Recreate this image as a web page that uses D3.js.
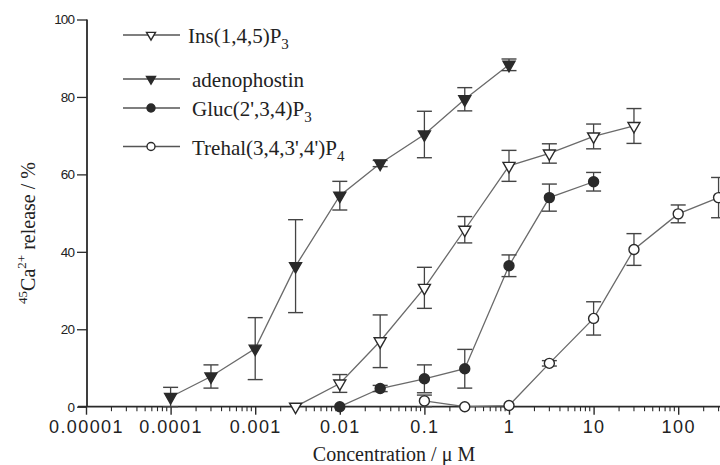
<!DOCTYPE html>
<html>
<head>
<meta charset="utf-8">
<script src="https://cdn.jsdelivr.net/npm/d3@7"></script>
<style>
  html, body { margin: 0; padding: 0; background: #fff; }
  svg { display: block; }
</style>
</head>
<body>
<svg id="chart" width="720" height="465"></svg>
<script>
// Concentration-response data: concentration (µM), % 45Ca2+ release, SEM
const insConc   = [0.003, 0.01, 0.03, 0.1, 0.3, 1, 3, 10, 30];
const insResp   = [0, 6, 16.9, 30.7, 45.7, 62.2, 65.4, 69.8, 72.5];
const insErr    = [0, 2.3, 6.8, 5.3, 3.4, 4, 2.5, 3.2, 4.5];

const adenoConc = [0.0001, 0.0003, 0.001, 0.003, 0.01, 0.03, 0.1, 0.3, 1];
const adenoResp = [2.5, 7.8, 15, 36.3, 54.5, 62.8, 70.3, 79.4, 88.3];
const adenoErr  = [2.5, 3, 8, 12, 3.7, 0.8, 6, 3, 1.5];

const glucConc  = [0.01, 0.03, 0.1, 0.3, 1, 3, 10];
const glucResp  = [0, 4.7, 7.2, 9.8, 36.4, 54, 58.1];
const glucErr   = [0, 0.8, 3.6, 5, 2.8, 3.5, 2.4];

const trehConc  = [0.1, 0.3, 1, 3, 10, 30, 100, 300];
const trehResp  = [1.5, 0, 0.3, 11.2, 22.8, 40.6, 49.8, 54];
const trehErr   = [1.5, 0, 0, 0.7, 4.3, 4.1, 2.3, 5.2];

const xTickValues = [1e-5, 1e-4, 1e-3, 1e-2, 1e-1, 1, 10, 100];
const xTickLabels = ["0.00001", "0.0001", "0.001", "0.01", "0.1", "1", "10", "100"];
const yTickValues = [0, 20, 40, 60, 80, 100];

const seriesList = [
  { name: "Ins", label: ["Ins(1,4,5)P", "3"], conc: insConc, resp: insResp, err: insErr, shape: "tri", filled: false },
  { name: "adeno", label: ["adenophostin", ""], conc: adenoConc, resp: adenoResp, err: adenoErr, shape: "tri", filled: true },
  { name: "gluc", label: ["Gluc(2',3,4)P", "3"], conc: glucConc, resp: glucResp, err: glucErr, shape: "circle", filled: true },
  { name: "treh", label: ["Trehal(3,4,3',4')P", "4"], conc: trehConc, resp: trehResp, err: trehErr, shape: "circle", filled: false }
];

const svg = d3.select("#chart");
const ink = "#2a2a2a";
const lineGrey = "#6a6a6a";

const x = d3.scaleLog().domain([1e-5, 1e3]).range([86, 86 + 8 * 84.6]);
const y = d3.scaleLinear().domain([0, 100]).range([406.7, 19.5]);

// ---- Axes ----
const minorTicks = [];
for (let e = -5; e < 3; e++) {
  for (let m = 2; m <= 9; m++) minorTicks.push(m * Math.pow(10, e));
}

const xAxis = d3.axisBottom(x)
  .tickValues(xTickValues)
  .tickFormat((d, i) => xTickLabels[i])
  .tickSize(8)
  .tickPadding(6);

const gx = svg.append("g").attr("transform", `translate(0,${y(0)})`).call(xAxis);
gx.select(".domain").remove();
gx.append("line").attr("x1", 78).attr("x2", 720).attr("y1", 0).attr("y2", 0)
  .attr("stroke", ink).attr("stroke-width", 1.8);
gx.selectAll(".tick line").attr("stroke", ink).attr("stroke-width", 1.4);
gx.selectAll(".tick text")
  .attr("fill", "#222")
  .attr("font-family", "'Liberation Sans', Arial, sans-serif")
  .attr("font-size", 18)
  .attr("letter-spacing", "1.4px")
  .attr("dy", "0.71em");

gx.selectAll(".minor").data(minorTicks).enter().append("line")
  .attr("class", "minor")
  .attr("x1", d => x(d)).attr("x2", d => x(d))
  .attr("y1", 0).attr("y2", 4.5)
  .attr("stroke", ink).attr("stroke-width", 1.1);

const yAxis = d3.axisLeft(y).tickValues(yTickValues).tickSize(10).tickPadding(3);
const gy = svg.append("g").attr("transform", "translate(87,0)").call(yAxis);
gy.select(".domain").remove();
gy.append("line").attr("x1", 0).attr("x2", 0).attr("y1", y(100)).attr("y2", y(0))
  .attr("stroke", ink).attr("stroke-width", 1.8);
gy.selectAll(".tick line").attr("stroke", ink).attr("stroke-width", 1.3);
gy.selectAll(".tick text")
  .attr("fill", "#222")
  .attr("font-family", "'Liberation Sans', Arial, sans-serif")
  .attr("font-size", 13.5)
  .attr("letter-spacing", "-0.9px");

// ---- Axis titles ----
const serif = "'Liberation Serif', 'Times New Roman', serif";
svg.append("text")
  .attr("x", 394).attr("y", 461)
  .attr("text-anchor", "middle")
  .attr("font-family", serif).attr("font-size", 20).attr("fill", "#222")
  .text("Concentration / \u03bc M");

const yt = svg.append("text")
  .attr("transform", "translate(35,233) rotate(-90)")
  .attr("text-anchor", "middle")
  .attr("font-family", serif).attr("font-size", 20).attr("fill", "#222");
yt.append("tspan").attr("font-size", 13).attr("dy", -8).text("45");
yt.append("tspan").attr("dy", 8).text("Ca");
yt.append("tspan").attr("font-size", 13).attr("dy", -9).text("2+");
yt.append("tspan").attr("dy", 9).text(" release / %");

// ---- Marker drawing ----
function markerPath(shape, size) {
  if (shape === "tri") {
    const w = size, h = size * 0.87;
    // down-pointing triangle centred on its centroid
    return `M${-w / 2},${-h / 3}L${w / 2},${-h / 3}L0,${2 * h / 3}Z`;
  }
  const r = size / 2;
  return `M${r},0A${r},${r} 0 1,1 ${-r},0A${r},${r} 0 1,1 ${r},0Z`;
}

const line = d3.line().x(d => x(d.c)).y(d => y(d.v));

seriesList.forEach(s => {
  const pts = s.conc.map((c, i) => ({ c, v: s.resp[i], e: s.err[i] }));
  const g = svg.append("g");

  g.append("path").datum(pts).attr("d", line)
    .attr("fill", "none").attr("stroke", lineGrey).attr("stroke-width", 1.3);

  const eb = g.selectAll(".eb").data(pts.filter(p => p.e > 0)).enter().append("g")
    .attr("transform", d => `translate(${x(d.c)},0)`);
  eb.append("line").attr("x1", 0).attr("x2", 0)
    .attr("y1", d => y(d.v - d.e)).attr("y2", d => y(d.v + d.e))
    .attr("stroke", "#444").attr("stroke-width", 1.3);
  eb.append("line").attr("x1", -7.5).attr("x2", 7.5)
    .attr("y1", d => y(d.v + d.e)).attr("y2", d => y(d.v + d.e))
    .attr("stroke", "#444").attr("stroke-width", 1.4);
  eb.append("line").attr("x1", -7.5).attr("x2", 7.5)
    .attr("y1", d => y(d.v - d.e)).attr("y2", d => y(d.v - d.e))
    .attr("stroke", "#444").attr("stroke-width", 1.4);

  g.selectAll(".mk").data(pts).enter().append("path")
    .attr("transform", d => `translate(${x(d.c)},${y(d.v)})`)
    .attr("d", markerPath(s.shape, s.shape === "tri" ? 12 : 10))
    .attr("fill", s.filled ? ink : "#fff")
    .attr("stroke", ink).attr("stroke-width", 1.4);
});

// ---- Legend ----
const legendY = [35, 79, 108, 146.5];
const legendTextX = [188, 192, 192, 192];
seriesList.forEach((s, i) => {
  const g = svg.append("g").attr("transform", `translate(0,${legendY[i]})`);
  g.append("line").attr("x1", 123).attr("x2", 180).attr("y1", 0).attr("y2", 0)
    .attr("stroke", "#555").attr("stroke-width", 1.3);
  g.append("path").attr("transform", "translate(151,0)")
    .attr("d", markerPath(s.shape, s.shape === "tri" ? 9 : 8))
    .attr("fill", s.filled ? ink : "#fff")
    .attr("stroke", ink).attr("stroke-width", 1.4);
  const t = g.append("text").attr("x", legendTextX[i]).attr("y", 8)
    .attr("font-family", serif).attr("font-size", 21).attr("fill", "#222");
  t.append("tspan").text(s.label[0]);
  if (s.label[1]) t.append("tspan").attr("font-size", 15).attr("dy", 6).text(s.label[1]);
});
</script>
</body>
</html>
